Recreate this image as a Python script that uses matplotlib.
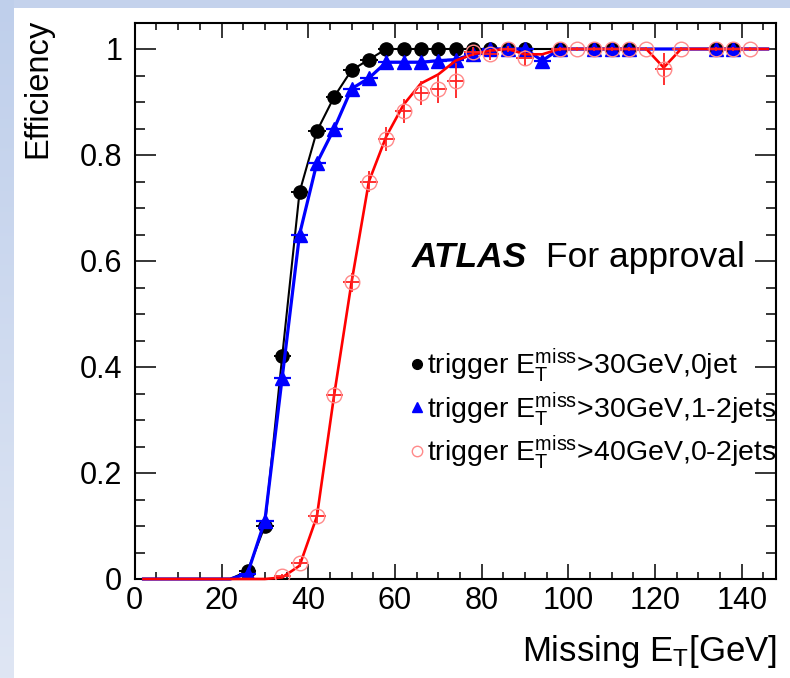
import numpy as np
import matplotlib
matplotlib.use('Agg')
import matplotlib.pyplot as plt
from matplotlib.lines import Line2D
from matplotlib.patches import Rectangle
from matplotlib.colors import LinearSegmentedColormap
from matplotlib.ticker import MultipleLocator, FixedLocator, FixedFormatter

plt.rcParams['font.family'] = ['Liberation Sans', 'DejaVu Sans']
plt.rcParams['mathtext.fontset'] = 'custom'
plt.rcParams['mathtext.rm'] = 'Liberation Sans'
plt.rcParams['mathtext.it'] = 'Liberation Sans:italic'
plt.rcParams['mathtext.bf'] = 'Liberation Sans:bold'

# ---------------- data ----------------
# bin centres of the drawn curves (4 GeV bins)
curve_x = [2, 6, 10, 14, 18, 22, 26, 30, 34, 38, 42, 46, 50, 54, 58, 62, 66, 70, 74,
           78, 82, 86, 90, 94, 98, 102, 106, 110, 114, 118, 122, 126, 130, 134, 138, 142, 146]
black_curve = [0, 0, 0, 0, 0, 0, 0.015, 0.10, 0.42, 0.73, 0.845, 0.91, 0.96, 0.98, 1, 1, 1, 1, 1,
               1, 1, 1, 1, 1, 1, 1, 1, 1, 1, 1, 1, 1, 1, 1, 1, 1, 1]
blue_curve = [0, 0, 0, 0, 0, 0, 0.01, 0.11, 0.38, 0.65, 0.785, 0.85, 0.925, 0.945, 0.975, 0.975, 0.975, 0.978, 0.98,
              0.99, 1, 1, 1, 0.978, 1, 1, 1, 1, 1, 1, 1, 1, 1, 1, 1, 1, 1]
red_curve = [0, 0, 0, 0, 0, 0, 0, 0, 0.003, 0.025, 0.118, 0.348, 0.56, 0.75, 0.835, 0.895, 0.935, 0.952, 0.978,
             0.99, 0.997, 1, 0.99, 0.99, 1, 1, 1, 1, 1, 1, 0.965, 1, 1, 1, 1, 1, 1]

# measured points
black_x = [26, 30, 34, 38, 42, 46, 50, 54, 58, 62, 66, 70, 74, 78, 82, 86, 90, 98, 106, 110, 114, 134, 138]
black_y = [0.015, 0.10, 0.42, 0.73, 0.845, 0.91, 0.96, 0.98, 1, 1, 1, 1, 1, 1, 1, 1, 1, 1, 1, 1, 1, 1, 1]

blue_x = [26, 30, 34, 38, 42, 46, 50, 54, 58, 62, 66, 70, 74, 78, 82, 86, 90, 94, 98, 106, 110, 114, 134, 138]
blue_y = [0.01, 0.11, 0.38, 0.65, 0.785, 0.85, 0.925, 0.945, 0.975, 0.975, 0.975, 0.978, 0.98, 0.99,
          1, 1, 1, 0.978, 1, 1, 1, 1, 1, 1]

red_x = [34, 38, 42, 46, 50, 54, 58, 62, 66, 70, 74, 78, 82, 86, 90, 98, 102, 106, 110, 114, 118, 122, 126,
         134, 138, 142]
red_y = [0.006, 0.03, 0.118, 0.348, 0.56, 0.75, 0.83, 0.883, 0.917, 0.925, 0.94, 0.995, 0.99, 1.0, 0.983,
         1, 1, 1, 1, 1, 1, 0.963, 1, 1, 1, 1]
red_yerr = [0.004, 0.008, 0.012, 0.015, 0.018, 0.02, 0.022, 0.022, 0.022, 0.026, 0.033, 0.008, 0.01, 0.005,
            0.015, 0.004, 0.004, 0.004, 0.004, 0.004, 0.004, 0.03, 0.004, 0.004, 0.004, 0.004]
bin_half_width = 2

labels = [r'trigger $\mathregular{E_T^{miss}}$>30GeV,0jet',
          r'trigger $\mathregular{E_T^{miss}}$>30GeV,1-2jets',
          r'trigger $\mathregular{E_T^{miss}}$>40GeV,0-2jets']

x_ticks = [0, 20, 40, 60, 80, 100, 120, 140]
y_ticks = [0, 0.2, 0.4, 0.6, 0.8, 1.0]
y_tick_labels = ['0', '0.2', '0.4', '0.6', '0.8', '1']

# ---------------- figure ----------------
W, H = 790, 678
fig = plt.figure(figsize=(W / 100, H / 100), dpi=100)
fig.patch.set_facecolor('#c4d2ec')

# slide background: light-blue gradient strip on the left
bg = fig.add_axes([0, 0, 14 / W, 1], zorder=-10)
grad = np.linspace(0, 1, 256).reshape(-1, 1)
cm = LinearSegmentedColormap.from_list('bg', ['#bfcfeb', '#dfe6f4'])
bg.imshow(grad, aspect='auto', cmap=cm, extent=[0, 1, 0, 1])
bg.set_axis_off()
fig.patches.append(Rectangle((14 / W, 0), 1 - 14 / W, 1 - 8 / H, transform=fig.transFigure,
                             facecolor='white', edgecolor='none', zorder=-5))

ax = fig.add_axes([134.8 / W, 1 - 579 / H, (776.4 - 134.8) / W, (579 - 22.5) / H])
ax.set_xlim(0, 148)
ax.set_ylim(0, 1.05)

pink = '#ff8a8a'

ax.plot(curve_x, black_curve, color='black', lw=1.5, zorder=3, clip_on=False)
ax.errorbar(black_x, black_y, xerr=bin_half_width, fmt='o', color='black', ms=9.5, elinewidth=1.4,
            capsize=0, zorder=4)
ax.plot(curve_x, blue_curve, color='#0000ff', lw=2.3, zorder=5, clip_on=False)
ax.errorbar(blue_x, blue_y, xerr=bin_half_width, fmt='^', color='#0000ff', ms=10, elinewidth=1.6,
            capsize=0, zorder=6)
ax.plot(curve_x, red_curve, color='#ff0000', lw=1.9, zorder=7, clip_on=False)
ax.errorbar(red_x, red_y, xerr=bin_half_width, yerr=red_yerr, fmt='none', ecolor='#ff2020',
            elinewidth=1.3, capsize=0, zorder=8)
ax.plot(red_x, red_y, 'o', ms=10.5, mfc='none', mec=pink, mew=1.0, zorder=9)

# axes style (ROOT like)
for s in ax.spines.values():
    s.set_linewidth(1.5)
ax.xaxis.set_major_locator(FixedLocator(x_ticks))
ax.xaxis.set_minor_locator(MultipleLocator(5))
ax.yaxis.set_major_locator(FixedLocator(y_ticks))
ax.yaxis.set_major_formatter(FixedFormatter(y_tick_labels))
ax.yaxis.set_minor_locator(MultipleLocator(0.05))
ax.tick_params(axis='both', which='both', direction='in', top=True, right=True, width=1.1)
ax.tick_params(axis='x', which='major', length=10.8, labelsize=22, pad=5)
ax.tick_params(axis='x', which='minor', length=5)
ax.tick_params(axis='y', which='major', length=15, labelsize=22, pad=9)
ax.tick_params(axis='y', which='minor', length=7.2)

fig.text(38 / W, 1 - 19 / H, 'Efficiency', rotation=90, ha='center', va='top', fontsize=23.5)
fig.text(777 / W, 1 - 661 / H, r'Missing $\mathregular{E_T}$[GeV]', ha='right', va='baseline', fontsize=25)

fig.text(412 / W, 1 - 267 / H, 'ATLAS', fontsize=25.5, fontweight='bold', fontstyle='italic',
         va='baseline')
fig.text(546 / W, 1 - 267 / H, 'For approval', fontsize=25.5, va='baseline')

handles = [Line2D([], [], ls='none', marker='o', color='black', ms=7),
           Line2D([], [], ls='none', marker='^', color='#0000ff', ms=7),
           Line2D([], [], ls='none', marker='o', mfc='none', mec=pink, mew=1.0, ms=7.5)]
leg = ax.legend(handles, labels, loc='upper left', bbox_to_anchor=(410 / W, 1 - 346 / H),
                bbox_transform=fig.transFigure, frameon=False, fontsize=20.5, borderpad=0,
                borderaxespad=0, handlelength=0.5, handletextpad=0.1, labelspacing=0.2)

fig.savefig('out.png', dpi=100, facecolor=fig.get_facecolor())
